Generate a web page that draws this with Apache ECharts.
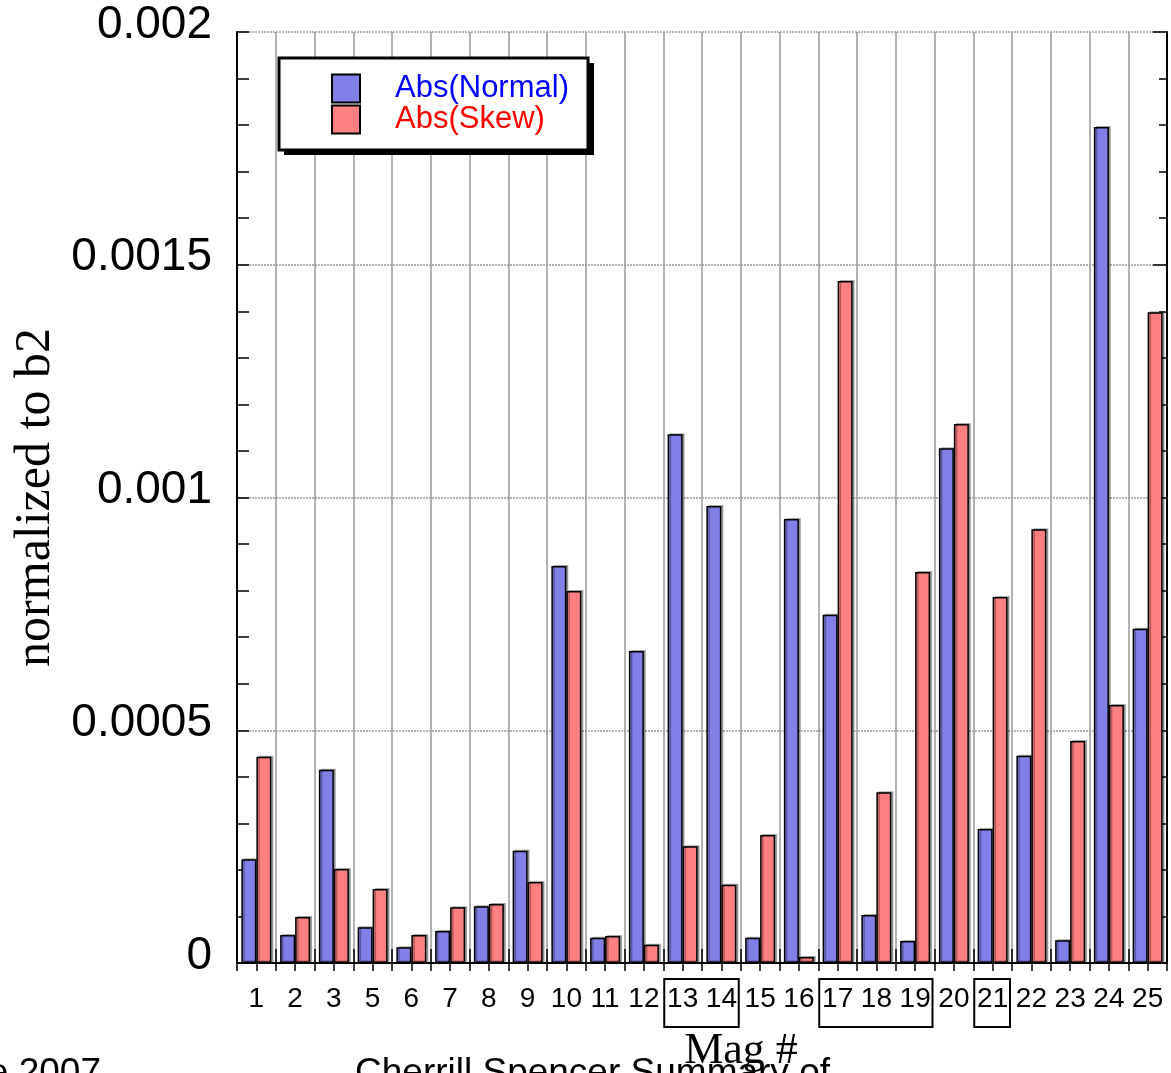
<!DOCTYPE html>
<html lang="en">
<head>
    <meta charset="UTF-8">
    <title>Mag # normalized to b2</title>
    <script src="https://cdn.jsdelivr.net/npm/echarts@6/dist/echarts.min.js"></script>
    <style>
        html, body { margin: 0; padding: 0; background: #fff; }
        #main { width: 1171px; height: 1073px; }
    </style>
</head>
<body>
<div id="main"></div>
<script>
    // magnet numbers (no #4)
    var magLabels = ['1','2','3','5','6','7','8','9','10','11','12','13','14','15','16','17','18','19','20','21','22','23','24','25'];
    // |normal| normalized to b2
    var absNormal = [0.000223, 0.000060, 0.000415, 0.000077, 0.000034, 0.000069, 0.000122, 0.000241, 0.000853, 0.000054, 0.000670, 0.001136,
                     0.000982, 0.000054, 0.000954, 0.000748, 0.000103, 0.000047, 0.001106, 0.000288, 0.000445, 0.000049, 0.001796, 0.000718];
    // |skew| normalized to b2
    var absSkew = [0.000443, 0.000099, 0.000202, 0.000159, 0.000060, 0.000120, 0.000127, 0.000174, 0.000799, 0.000058, 0.000039, 0.000251,
                   0.000168, 0.000275, 0.000013, 0.001465, 0.000367, 0.000840, 0.001158, 0.000786, 0.000932, 0.000477, 0.000554, 0.001398];
    // boxed label groups on the x axis
    var boxedGroups = [['13','14'], ['17','19'], ['21','21']];

    var sans = "'Liberation Sans', Arial, sans-serif";
    var serif = "'Liberation Serif', 'Times New Roman', serif";

    var chart = echarts.init(document.getElementById('main'));

    var barStyle = function (color) {
        return {
            color: color,
            borderColor: '#000',
            borderWidth: 1.5,
            shadowColor: 'rgba(0,0,0,0.3)',
            shadowOffsetX: 2,
            shadowOffsetY: -1,
            shadowBlur: 0
        };
    };

    var option = {
        animation: false,
        backgroundColor: '#fff',
        grid: { left: 237, top: 32, right: 4, bottom: 110, containLabel: false, outerBoundsMode: 'none' },
        legend: {
            orient: 'vertical',
            left: 326,
            top: 68,
            itemWidth: 28,
            itemHeight: 28,
            itemGap: 0,
            icon: 'rect',
            z: 10,
            textStyle: { fontFamily: sans, fontSize: 31, lineHeight: 28, padding: [0, 0, 0, 30] },
            data: [
                { name: 'Abs(Normal)', textStyle: { color: '#0000ff' } },
                { name: 'Abs(Skew)', textStyle: { color: '#ff0000' } }
            ]
        },
        xAxis: [
            {
                type: 'category',
                data: magLabels,
                position: 'bottom',
                name: 'Mag #',
                nameLocation: 'middle',
                nameGap: 66,
                nameTextStyle: { fontFamily: serif, fontSize: 44, color: '#000', padding: [0, 0, 0, 78] },
                axisLine: { lineStyle: { color: '#000', width: 2 } },
                axisTick: { show: true, inside: true, length: 14, lineStyle: { color: '#000', width: 1.5 } },
                axisLabel: { fontFamily: sans, fontSize: 28, color: '#000', margin: 22, interval: 0 },
                splitLine: { show: true, lineStyle: { color: '#999', width: 1.5 } }
            },
            {
                type: 'value',
                position: 'top',
                min: 0,
                max: 24,
                interval: 0.5,
                axisLine: { show: true, lineStyle: { color: '#000', width: 2 } },
                axisTick: { show: true, inside: true, length: 8, lineStyle: { color: '#000', width: 1.5 } },
                axisLabel: { show: false },
                splitLine: { show: false }
            }
        ],
        yAxis: [
            {
                type: 'value',
                min: 0,
                max: 0.002,
                interval: 0.0005,
                name: 'normalized to b2',
                nameLocation: 'middle',
                nameGap: 165,
                nameTextStyle: { fontFamily: serif, fontSize: 50, color: '#000' },
                axisLine: { show: true, lineStyle: { color: '#000', width: 2 } },
                axisTick: { show: true, inside: true, length: 12, lineStyle: { color: '#000', width: 1.5 } },
                minorTick: { show: true, splitNumber: 5, length: 12, lineStyle: { color: '#000', width: 1.5 } },
                axisLabel: {
                    fontFamily: sans, fontSize: 46, color: '#000', margin: 25,
                    verticalAlign: 'bottom', lineHeight: 14,
                    formatter: function (v) { return String(parseFloat(v.toFixed(4))); }
                },
                splitLine: { show: true, lineStyle: { color: '#999', width: 1.5, type: [2, 1] } }
            },
            {
                type: 'value',
                position: 'right',
                min: 0,
                max: 0.002,
                interval: 0.0005,
                axisLine: { show: true, lineStyle: { color: '#000', width: 2 } },
                axisTick: { show: true, inside: true, length: 14, lineStyle: { color: '#000', width: 1.5 } },
                minorTick: { show: true, splitNumber: 5, length: 8, lineStyle: { color: '#000', width: 1.5 } },
                axisLabel: { show: false },
                splitLine: { show: false }
            }
        ],
        series: [
            {
                name: 'Abs(Normal)',
                type: 'bar',
                xAxisIndex: 0,
                yAxisIndex: 0,
                barWidth: 15,
                barGap: '0%',
                data: absNormal,
                itemStyle: barStyle('#8080e8')
            },
            {
                name: 'Abs(Skew)',
                type: 'bar',
                xAxisIndex: 0,
                yAxisIndex: 0,
                barWidth: 15,
                barGap: '0%',
                data: absSkew,
                itemStyle: barStyle('#ff8080')
            }
        ]
    };
    chart.setOption(option);

    // legend frame with drop shadow, boxes around label groups, footer text
    var halfBand = (chart.convertToPixel({ xAxisIndex: 0 }, magLabels[1]) - chart.convertToPixel({ xAxisIndex: 0 }, magLabels[0])) / 2;
    var axisY = chart.convertToPixel({ yAxisIndex: 0 }, 0);
    var graphics = [
        { type: 'rect', z: 5, shape: { x: 284, y: 63, width: 310, height: 92 }, style: { fill: '#000' } },
        { type: 'rect', z: 6, shape: { x: 279, y: 58, width: 309, height: 92 }, style: { fill: '#fff', stroke: '#000', lineWidth: 3 } }
    ];
    boxedGroups.forEach(function (g) {
        var x0 = chart.convertToPixel({ xAxisIndex: 0 }, g[0]) - halfBand;
        var x1 = chart.convertToPixel({ xAxisIndex: 0 }, g[1]) + halfBand;
        graphics.push({
            type: 'rect', z: 6,
            shape: { x: x0 + 1, y: axisY + 16, width: x1 - x0 - 3, height: 48 },
            style: { fill: 'none', stroke: '#000', lineWidth: 2 }
        });
    });
    graphics.push({ type: 'text', z: 1, x: 101, y: 1074,
        style: { text: 'June 2007', fontFamily: sans, fontSize: 37, fill: '#000', align: 'right', verticalAlign: 'middle' } });
    graphics.push({ type: 'text', z: 1, x: 355, y: 1074,
        style: { text: 'Cherrill Spencer Summary of', fontFamily: sans, fontSize: 37, fill: '#000', align: 'left', verticalAlign: 'middle' } });
    chart.setOption({ graphic: graphics });

    window.onresize = chart.resize;
</script>
</body>
</html>
